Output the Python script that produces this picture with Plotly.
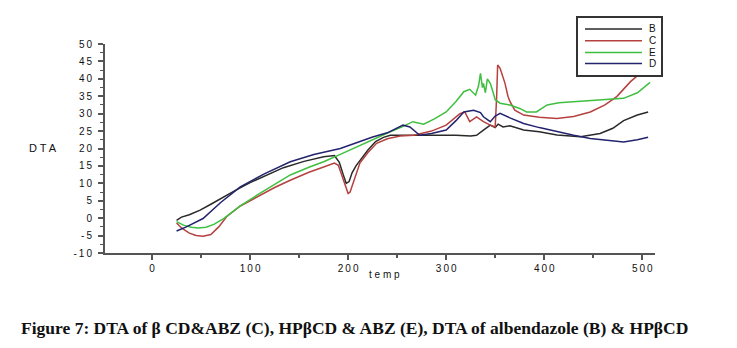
import plotly.graph_objects as go

# ---- data ----
B_temp = [25, 30, 38, 49, 60, 69, 85, 100, 120, 134, 155, 175, 186, 191, 195, 198, 201, 204, 208, 212,
          220, 228, 236, 243, 255, 270, 290, 310, 325, 331, 338, 345, 350, 353, 358, 365, 379, 395, 413,
          437, 457, 470, 481, 495, 506]
B_dta = [-0.6, 0.3, 1.0, 2.3, 4.0, 5.5, 8.0, 10.2, 12.8, 14.5, 16.3, 17.6, 18.0, 16.0, 12.5, 10.0, 10.5,
         13.0, 15.0, 16.5, 19.5, 22.0, 23.2, 23.8, 23.8, 23.9, 23.7, 23.8, 23.6, 23.8, 25.3, 26.7, 26.0,
         27.0, 26.2, 26.5, 25.3, 24.8, 23.9, 23.4, 24.3, 25.8, 28.0, 29.6, 30.5]

C_temp = [25, 30, 38, 45, 52, 60, 68, 76, 90, 107, 125, 141, 160, 175, 186, 190, 194, 197, 200, 202, 205,
          208, 212, 220, 229, 240, 253, 267, 285, 300, 308, 314, 319, 324, 331, 338, 345, 350, 351.5,
          352.5, 355, 358, 360, 363, 365, 370, 379, 395, 413, 430, 447, 462, 474, 488, 500, 508]
C_dta = [-1.4, -2.8, -4.3, -5.0, -5.2, -4.7, -2.5, 0.4, 3.5, 6.1, 8.8, 10.9, 13.2, 14.7, 15.8, 15.2, 12.0,
         9.0, 7.1, 7.5, 10.0, 13.0, 15.8, 18.8, 21.5, 22.8, 23.6, 23.8, 25.0, 26.7, 28.5, 30.0, 30.5, 27.7,
         29.1, 27.7, 26.7, 26.2, 35.0, 44.0, 43.0, 40.6, 38.7, 35.0, 33.5, 31.0, 29.6, 29.0, 28.6, 29.2,
         30.5, 32.5, 34.9, 39.2, 42.0, 44.0]

E_temp = [25, 32, 40, 47, 55, 63, 73, 90, 107, 125, 141, 160, 175, 192, 209, 226, 243, 255, 266, 277, 288,
          300, 310, 318, 324, 330, 333, 335, 337, 338, 340, 342, 345, 348, 350, 355, 365, 375, 382, 392,
          403, 415, 430, 450, 465, 481, 495, 508]
E_dta = [-1.0, -2.0, -2.6, -2.8, -2.6, -1.8, -0.1, 3.5, 6.6, 9.7, 12.4, 14.6, 16.2, 18.3, 20.5, 22.8,
         24.8, 26.2, 27.7, 27.0, 28.5, 30.5, 33.5, 36.3, 37.0, 35.3, 38.0, 41.6, 37.5, 38.7, 36.0, 40.0,
         38.7, 36.0, 34.0, 33.0, 32.5, 31.5, 30.5, 30.5, 32.5, 33.1, 33.4, 33.8, 34.0, 34.4, 36.0, 39.0]

D_temp = [25, 35, 52, 70, 90, 115, 141, 165, 192, 210, 225, 240, 256, 263, 268, 273, 285, 300, 310, 318,
          328, 335, 338, 345, 350, 355, 365, 379, 395, 413, 430, 447, 465, 481, 495, 506]
D_dta = [-3.7, -2.5, -0.1, 4.5, 9.0, 12.8, 16.2, 18.3, 20.0, 21.8, 23.3, 24.5, 26.7, 26.2, 25.0, 23.8,
         24.3, 25.3, 28.0, 30.5, 31.0, 30.3, 29.1, 27.7, 29.3, 30.1, 28.8, 27.2, 26.0, 24.8, 23.8, 22.9,
         22.3, 21.9, 22.5, 23.2]

series_names = ["B", "C", "E", "D"]
series_colors = ["#2a2a2a", "#b5413f", "#3fbf3f", "#23236e"]

x_tick_vals = [0, 100, 200, 300, 400, 500]
y_tick_vals = [-10, -5, 0, 5, 10, 15, 20, 25, 30, 35, 40, 45, 50]

caption = "Figure 7: DTA of β CD&ABZ (C), HPβCD & ABZ (E), DTA of albendazole (B) & HPβCD"

# ---- figure ----
W, H = 737, 348
L, R, T, Bm = 105, 655, 44, 253   # plot area in pixels


def px(xp):
    return (xp - L) / (R - L)


def py(yp):
    return (Bm - yp) / (Bm - T)


def spaced(v):
    return "\u2009".join(str(v))


fig = go.Figure()
all_data = [(B_temp, B_dta), (C_temp, C_dta), (E_temp, E_dta), (D_temp, D_dta)]
for name, color, (xs, ys) in zip(series_names, series_colors, all_data):
    fig.add_trace(go.Scatter(x=xs, y=ys, mode="lines", name=name,
                             line=dict(color=color, width=1.5), showlegend=False))

axis_font = dict(family="Liberation Sans, Arial", size=10, color="#111")
fig.update_layout(
    width=W, height=H,
    margin=dict(l=L, r=W - R, t=T, b=H - Bm, pad=0),
    paper_bgcolor="white", plot_bgcolor="white",
    xaxis=dict(range=[-48, 513], showgrid=False, zeroline=False,
               showline=True, linecolor="#555", linewidth=2,
               ticks="outside", ticklen=5, tickwidth=2, tickcolor="#555",
               tickvals=x_tick_vals, ticktext=[spaced(v) for v in x_tick_vals], tickfont=axis_font,
               minor=dict(dtick=50, tick0=0, ticks="outside", ticklen=3, tickwidth=1.5, tickcolor="#555")),
    yaxis=dict(range=[-10, 50], showgrid=False, zeroline=False,
               showline=True, linecolor="#555", linewidth=2,
               ticks="outside", ticklen=5, tickwidth=2, tickcolor="#555",
               tickvals=y_tick_vals, ticktext=[spaced(v) for v in y_tick_vals], tickfont=axis_font,
               ticklabelstandoff=4,
               minor=dict(dtick=2.5, tick0=0, ticks="outside", ticklen=3, tickwidth=1.2, tickcolor="#555")),
)

# axis titles
fig.add_annotation(text="D T A", x=px(43), y=py(148), xref="paper", yref="paper",
                   xanchor="center", yanchor="middle", showarrow=False,
                   font=dict(family="Liberation Sans, Arial", size=11, color="#111"))
fig.add_annotation(text="t e m p", x=px(384), y=py(274), xref="paper", yref="paper",
                   xanchor="center", yanchor="middle", showarrow=False,
                   font=dict(family="Liberation Sans, Arial", size=10, color="#111"))

# legend box (manual)
fig.add_shape(type="rect", xref="paper", yref="paper",
              x0=px(577), x1=px(662), y0=py(76), y1=py(17),
              line=dict(color="#333", width=2), fillcolor="white")
legend_rows = [29, 40.7, 52.5, 63.5]
for name, color, yy in zip(series_names, series_colors, legend_rows):
    fig.add_shape(type="line", xref="paper", yref="paper",
                  x0=px(585), x1=px(642), y0=py(yy), y1=py(yy),
                  line=dict(color=color, width=1.6))
    fig.add_annotation(text=name, x=px(647), y=py(yy), xref="paper", yref="paper",
                       xanchor="left", yanchor="middle", showarrow=False,
                       font=dict(family="Liberation Sans, Arial", size=10, color="#111"))

# caption
fig.add_annotation(text="<b>" + caption + "</b>", x=px(354), y=py(328), xref="paper", yref="paper",
                   xanchor="center", yanchor="middle", showarrow=False,
                   font=dict(family="Liberation Serif, Times New Roman", size=17.5, color="#111"))

fig.write_html("out.html")
